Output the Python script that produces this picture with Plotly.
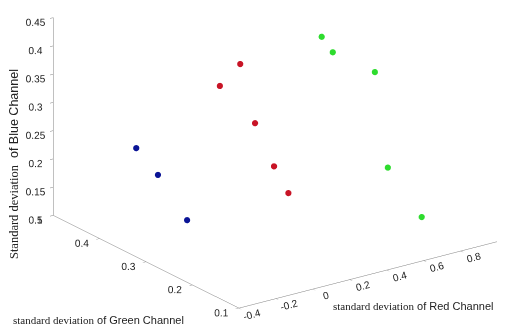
import plotly.graph_objects as go
import numpy as np

# data: (red std, green std, blue std)
red_x = [0.30, 0.20, 0.35, 0.40, 0.45]
red_y = [0.376, 0.380, 0.364, 0.343, 0.332]
red_z = [0.360, 0.328, 0.256, 0.184, 0.137]

green_x = [0.60, 0.65, 0.80, 0.85, 0.90]
green_y = [0.320, 0.316, 0.285, 0.277, 0.224]
green_z = [0.406, 0.376, 0.341, 0.171, 0.101]

blue_x = [-0.20, -0.10, 0.00]
blue_y = [0.401, 0.394, 0.371]
blue_z = [0.243, 0.190, 0.111]

x_ticks = [-0.4, -0.2, 0, 0.2, 0.4, 0.6, 0.8, 1]
x_ticktext = ["-0.4", "-0.2", "0", "0.2", "0.4", "0.6", "0.8", "1"]
y_ticks = [0.1, 0.2, 0.3, 0.4, 0.5]
y_ticktext = ["0.1", "0.2", "0.3", "0.4", "0.5"]
z_ticks = [0.1, 0.15, 0.2, 0.25, 0.3, 0.35, 0.4, 0.45]
z_ticktext = ["0.1", "0.15", "0.2", "0.25", "0.3", "0.35", "0.4", "0.45"]

fig = go.Figure()
for xs, ys, zs, col in [(red_x, red_y, red_z, "#C81426"),
                        (green_x, green_y, green_z, "#2EDC2E"),
                        (blue_x, blue_y, blue_z, "#0A1496")]:
    fig.add_trace(go.Scatter3d(x=xs, y=ys, z=zs, mode="markers",
                               marker=dict(size=3.6, color=col, line=dict(width=0)),
                               showlegend=False, hoverinfo="skip"))

tickfont = dict(family="Liberation Sans", size=11, color="#222222")
def ax(rng, tv, tt, ang):
    return dict(range=rng, tickvals=tv, ticktext=tt, autorange=False,
                showgrid=False, showbackground=False, showline=True,
                linecolor="#808080", linewidth=1, ticks="outside", ticklen=4,
                tickcolor="#808080", zeroline=False, showspikes=False,
                tickangle=ang,
                title=dict(text=""), tickfont=tickfont)

n = np.array([-0.583, -0.812, 0.384])
n = n / np.linalg.norm(n)
c = np.array([-0.1275, -0.0197, -0.235])
eye = c + n * 2.0
k = 1.96
fig.update_layout(
    width=505, height=325, paper_bgcolor="white",
    margin=dict(l=0, r=0, t=0, b=0),
    scene=dict(
        xaxis=ax([-0.4, 1], x_ticks, x_ticktext, -15),
        yaxis=ax([0.1, 0.5], y_ticks, y_ticktext, 0),
        zaxis=ax([0.1, 0.45], z_ticks, z_ticktext, 0),
        aspectmode="manual", aspectratio=dict(x=k, y=k, z=0.665 * k),
        camera=dict(eye=dict(x=eye[0], y=eye[1], z=eye[2]), up=dict(x=0, y=0, z=1),
                    center=dict(x=c[0], y=c[1], z=c[2]),
                    projection=dict(type="orthographic")),
        domain=dict(x=[0, 1], y=[0, 1]),
    ),
)

serif = "Liberation Serif"
sans = "Liberation Sans"
fig.add_annotation(x=0.012, y=0.52, xref="paper", yref="paper", textangle=-90,
                   xanchor="center", yanchor="middle", showarrow=False,
                   text=f"<span style='font-family:{serif}'>Standard deviation</span>  of Blue Channel",
                   font=dict(family=sans, size=12.5, color="#222"))
fig.add_annotation(x=0.005, y=0.015, xref="paper", yref="paper", xanchor="left",
                   showarrow=False,
                   text=f"<span style='font-family:{serif}'>standard deviation</span> of Green Channel",
                   font=dict(family=sans, size=11, color="#222"))
fig.add_annotation(x=0.64, y=0.06, xref="paper", yref="paper", xanchor="left",
                   showarrow=False,
                   text=f"<span style='font-family:{serif}'>standard deviation</span> of Red Channel",
                   font=dict(family=sans, size=11, color="#222"))

fig.write_html("out.html")
